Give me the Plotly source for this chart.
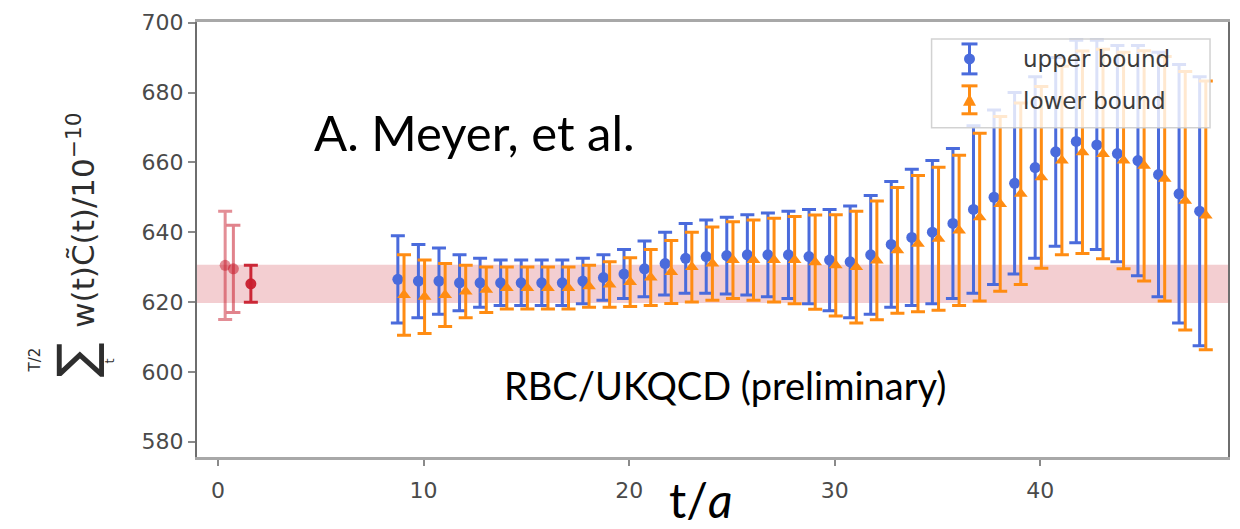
import plotly.graph_objects as go

# ---- data -------------------------------------------------------------
t_vals = list(range(9, 49))

upper_mean = [626.5, 626.0, 626.0, 625.5, 625.5, 625.5, 625.5, 625.5, 625.5, 626.0,
              627.0, 628.0, 629.5, 631.0, 632.5, 633.0, 633.3, 633.5, 633.5, 633.5,
              633.0, 632.0, 631.5, 633.5, 636.5, 638.5, 640.0, 642.5, 646.5, 650.0,
              654.0, 658.5, 663.0, 666.0, 665.0, 662.5, 660.5, 656.5, 651.0, 646.0]
upper_err = [12.5, 10.5, 9.5, 8.0, 7.0, 6.5, 6.5, 6.5, 6.5, 6.5,
             6.5, 7.0, 8.0, 9.0, 10.0, 10.5, 11.0, 11.5, 12.0, 12.5,
             13.5, 14.5, 16.0, 17.0, 18.0, 19.5, 20.5, 21.5, 24.0, 25.0,
             26.0, 26.0, 27.0, 29.0, 30.0, 31.0, 33.0, 35.0, 37.0, 38.5]

lower_mean = [622.0, 621.5, 622.0, 623.0, 623.5, 624.0, 624.0, 624.0, 624.0, 624.5,
              625.0, 625.7, 627.0, 628.6, 630.0, 631.0, 632.0, 632.0, 632.0, 632.0,
              631.4, 630.5, 630.0, 631.9, 634.8, 636.7, 638.1, 640.5, 644.3, 648.1,
              651.0, 655.7, 660.5, 662.9, 662.4, 660.5, 659.0, 655.3, 649.0, 644.8]
lower_err = [11.5, 10.5, 9.0, 7.5, 6.5, 6.0, 6.0, 6.0, 6.0, 6.0,
             6.5, 7.0, 8.0, 9.0, 10.0, 10.5, 11.0, 11.5, 12.0, 12.5,
             13.5, 14.5, 16.0, 17.0, 18.0, 19.5, 20.5, 21.5, 24.0, 25.0,
             26.0, 26.0, 27.0, 29.0, 30.0, 31.0, 33.0, 35.0, 37.0, 38.5]

# earlier determinations (faint) and the combined result (solid)
ref_t = [0.35, 0.75, 1.6]
ref_mean = [630.5, 629.5, 625.2]
ref_err = [15.5, 12.5, 5.3]
ref_alpha = [0.5, 0.55, 0.95]

band_mean = 625.2
band_err = 5.5

x_ticks = [0, 10, 20, 30, 40]
y_ticks = [580, 600, 620, 640, 660, 680, 700]

# ---- style ------------------------------------------------------------
BLUE = "#4a6bdc"
ORANGE = "#ff8c12"
RED = (200, 30, 45)
TICK_FONT = dict(family="DejaVu Sans", size=22, color="#4a4a4a")

# plot-area geometry in pixels, used to place the hand-built legend/labels
L, R, T, B = 197, 1230, 21, 457


def px(x):
    return (x - L) / (R - L)


def py(y):
    return (B - y) / (B - T)


fig = go.Figure()

for t, m, e, a in zip(ref_t, ref_mean, ref_err, ref_alpha):
    col = "rgba(%d,%d,%d,%.2f)" % (RED + (a,))
    fig.add_trace(go.Scatter(
        x=[t], y=[m], mode="markers",
        marker=dict(symbol="circle", size=11, color=col),
        error_y=dict(type="data", array=[e], color=col, thickness=3, width=7),
        showlegend=False, hoverinfo="skip"))

fig.add_trace(go.Scatter(
    x=[t - 0.25 for t in t_vals], y=upper_mean, mode="markers", name="upper bound",
    marker=dict(symbol="circle", size=11, color=BLUE),
    error_y=dict(type="data", array=upper_err, color=BLUE, thickness=3, width=7),
    showlegend=False))

fig.add_trace(go.Scatter(
    x=[t + 0.05 for t in t_vals], y=lower_mean, mode="markers", name="lower bound",
    marker=dict(symbol="triangle-up", size=12, color=ORANGE),
    error_y=dict(type="data", array=lower_err, color=ORANGE, thickness=3, width=7),
    showlegend=False))

shapes = [
    # horizontal band of the combined result
    dict(type="rect", xref="paper", yref="y", x0=0, x1=1,
         y0=band_mean - band_err, y1=band_mean + band_err,
         fillcolor="rgba(%d,%d,%d,0.22)" % RED, line=dict(width=0), layer="below"),
    # legend frame
    dict(type="rect", xref="paper", yref="paper",
         x0=px(933), x1=px(1212), y0=py(127), y1=py(38),
         fillcolor="rgba(255,255,255,0.8)", line=dict(color="rgba(205,205,205,0.9)", width=1.5),
         layer="above"),
]

# legend icons: error bar + marker
for (ytop, ybot, ymid, col, kind) in [(43, 73, 58, BLUE, "circle"),
                                      (85, 113, 100, ORANGE, "triangle")]:
    xc = 971
    shapes.append(dict(type="line", xref="paper", yref="paper", x0=px(xc), x1=px(xc),
                       y0=py(ytop), y1=py(ybot), line=dict(color=col, width=3), layer="above"))
    for yc in (ytop, ybot):
        shapes.append(dict(type="line", xref="paper", yref="paper", x0=px(xc - 8), x1=px(xc + 8),
                           y0=py(yc), y1=py(yc), line=dict(color=col, width=3), layer="above"))
    if kind == "circle":
        shapes.append(dict(type="circle", xref="paper", yref="paper",
                           x0=px(xc - 5.5), x1=px(xc + 5.5), y0=py(ymid + 5.5), y1=py(ymid - 5.5),
                           fillcolor=col, line=dict(width=0), layer="above"))
    else:
        path = "M %f %f L %f %f L %f %f Z" % (px(xc), py(ymid - 7), px(xc - 6.5), py(ymid + 5),
                                            px(xc + 6.5), py(ymid + 5))
        shapes.append(dict(type="path", xref="paper", yref="paper", path=path,
                           fillcolor=col, line=dict(width=0), layer="above"))

annotations = [
    dict(text="upper bound", x=px(1023), y=py(58), xanchor="left", yanchor="middle",
         font=dict(family="DejaVu Sans", size=23, color="#3c3c3c")),
    dict(text="lower bound", x=px(1023), y=py(100), xanchor="left", yanchor="middle",
         font=dict(family="DejaVu Sans", size=23, color="#3c3c3c")),
    # y-axis title built from pieces: sum with limits, then the summand
    dict(text="w(t)C\u0303(t)/10<sup>\u221210</sup>", x=px(80), y=py(220), textangle=-90,
         xanchor="center", yanchor="middle",
         font=dict(family="DejaVu Sans", size=31, color="#2e2e2e")),
    dict(text="\u2211", x=px(76), y=py(360), textangle=-90, xanchor="center", yanchor="middle",
         font=dict(family="DejaVu Sans", size=52, color="#2e2e2e")),
    dict(text="T/2", x=px(35), y=py(360), textangle=-90, xanchor="center", yanchor="middle",
         font=dict(family="DejaVu Sans", size=15, color="#2e2e2e")),
    dict(text="t", x=px(109), y=py(361), textangle=-90, xanchor="center", yanchor="middle",
         font=dict(family="DejaVu Sans", size=13, color="#2e2e2e")),
    # overlay captions
    dict(text="A. Meyer, et al.", x=px(312), y=py(131), xanchor="left", yanchor="middle",
         font=dict(family="Lato", size=49, color="black")),
    dict(text="RBC/UKQCD (preliminary)", x=px(503), y=py(385), xanchor="left", yanchor="middle",
         font=dict(family="Lato", size=38, color="black")),
    dict(text="t/<i>a</i>", x=px(701), y=py(500), xanchor="center", yanchor="middle",
         font=dict(family="Lato", size=48, color="black")),
]
for a in annotations:
    a.setdefault("xref", "paper")
    a.setdefault("yref", "paper")
    a["showarrow"] = False

fig.update_layout(
    width=1240, height=529,
    margin=dict(l=L, r=1240 - R, t=T, b=529 - B),
    paper_bgcolor="white", plot_bgcolor="white",
    shapes=shapes, annotations=annotations, showlegend=False,
    xaxis=dict(range=[-1.02, 49.13], tickvals=x_ticks, ticks="outside", ticklen=6,
               tickwidth=1.5, tickcolor="#8a8a8a", tickfont=TICK_FONT, showgrid=False,
               zeroline=False, showline=True, mirror=True, linecolor="#a8a8a8", linewidth=3,
               ticklabelstandoff=6),
    yaxis=dict(range=[575.6, 700.2], tickvals=y_ticks, ticks="outside", ticklen=7,
               tickwidth=1.5, tickcolor="#8a8a8a", tickfont=TICK_FONT, showgrid=False,
               zeroline=False, showline=True, mirror=True, linecolor="#6e6e6e", linewidth=2),
)

fig.write_html("out.html")
